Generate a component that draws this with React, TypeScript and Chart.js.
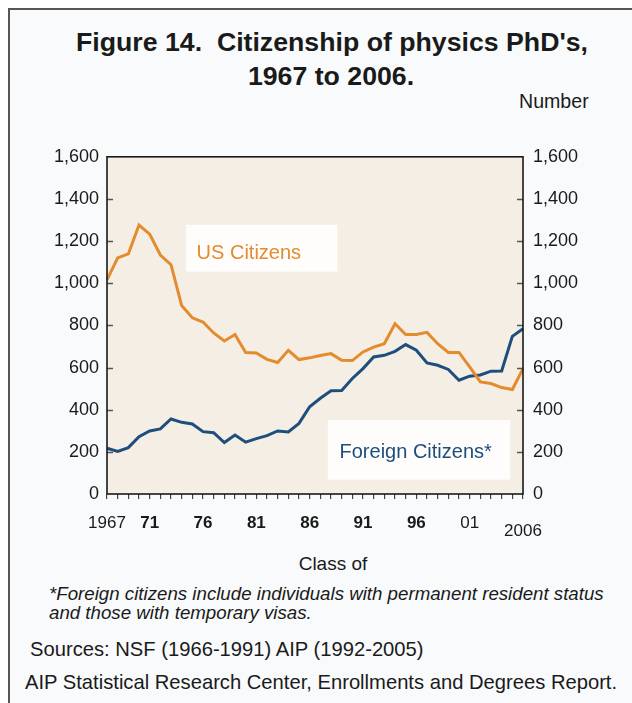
import React, { useEffect, useRef } from "react";
import { Chart, registerables } from "chart.js";

Chart.register(...registerables);

const years = [
  1967, 1968, 1969, 1970, 1971, 1972, 1973, 1974, 1975, 1976,
  1977, 1978, 1979, 1980, 1981, 1982, 1983, 1984, 1985, 1986,
  1987, 1988, 1989, 1990, 1991, 1992, 1993, 1994, 1995, 1996,
  1997, 1998, 1999, 2000, 2001, 2002, 2003, 2004, 2005, 2006,
];

const usCitizens = [
  1016, 1120, 1139, 1276, 1233, 1134, 1088, 894, 836, 816,
  764, 726, 757, 671, 669, 639, 624, 682, 638, 646,
  657, 666, 635, 633, 674, 697, 713, 808, 757, 757,
  767, 713, 672, 672, 603, 532, 524, 505, 496, 595,
];

const foreignCitizens = [
  217, 202, 220, 272, 299, 309, 356, 340, 332, 296,
  291, 244, 280, 246, 263, 277, 299, 294, 335, 414,
  454, 490, 491, 548, 595, 650, 658, 677, 709, 682,
  622, 611, 591, 540, 559, 565, 583, 584, 748, 784,
];

const xTickLabels: Record<number, string> = {
  1967: "1967",
  1971: "71",
  1976: "76",
  1981: "81",
  1986: "86",
  1991: "91",
  1996: "96",
  2001: "01",
  2006: "2006",
};
const boldYears = [1971, 1976, 1981, 1986, 1991, 1996];
const loweredYears = [2006];

const yTicks = [0, 200, 400, 600, 800, 1000, 1200, 1400, 1600];

// annotation boxes in data coordinates (category index, value)
const usLabel = { text: "US Citizens", x0: 7.4, x1: 21.6, y0: 1055, y1: 1277, tx: 8.4, ty: 1113 };
const foreignLabel = { text: "Foreign Citizens*", x0: 20.7, x1: 37.8, y0: 68, y1: 351, tx: 21.8, ty: 170 };

const FONT = '"Liberation Sans", Arial, Helvetica, sans-serif';
const ORANGE = "#E38B2D";
const BLUE = "#1E4E7D";

const framePlugin = {
  id: "framePlugin",
  beforeDraw(chart: any) {
    const { ctx, chartArea: a } = chart;
    ctx.save();
    ctx.fillStyle = "#F5EEE4";
    ctx.fillRect(a.left, a.top, a.right - a.left, a.bottom - a.top);
    ctx.restore();
  },
  beforeDatasetsDraw(chart: any) {
    const { ctx } = chart;
    const xs = chart.scales.x;
    const ys = chart.scales.y;
    ctx.save();
    [
      { l: usLabel, color: ORANGE },
      { l: foreignLabel, color: BLUE },
    ].forEach(({ l, color }) => {
      const x0 = xs.getPixelForValue(l.x0);
      const x1 = xs.getPixelForValue(l.x1);
      const y0 = ys.getPixelForValue(l.y1);
      const y1 = ys.getPixelForValue(l.y0);
      ctx.fillStyle = "#FEFDFB";
      ctx.fillRect(x0, y0, x1 - x0, y1 - y0);
      ctx.fillStyle = color;
      ctx.font = `20px ${FONT}`;
      ctx.textBaseline = "alphabetic";
      ctx.textAlign = "left";
      ctx.fillText(l.text, xs.getPixelForValue(l.tx), ys.getPixelForValue(l.ty));
    });
    ctx.restore();
  },
  afterDatasetsDraw(chart: any) {
    const { ctx, chartArea: a } = chart;
    const ys = chart.scales.y;
    ctx.save();
    ctx.strokeStyle = "#555555";
    ctx.lineWidth = 1.5;
    ys.ticks.forEach((t: any, i: number) => {
      if (t.value === 0 || t.value === 1600) return;
      const y = Math.round(ys.getPixelForTick(i)) + 0.5;
      ctx.beginPath();
      ctx.moveTo(a.left, y);
      ctx.lineTo(a.left + 6, y);
      ctx.moveTo(a.right, y);
      ctx.lineTo(a.right - 6, y);
      ctx.stroke();
    });
    ctx.strokeStyle = "#1a1a1a";
    ctx.lineWidth = 1.6;
    ctx.strokeRect(a.left, a.top, a.right - a.left, a.bottom - a.top);
    ctx.restore();
  },
};

function ChartCanvas() {
  const ref = useRef<HTMLCanvasElement | null>(null);
  useEffect(() => {
    if (!ref.current) return;
    Chart.defaults.font.family = FONT;
    Chart.defaults.color = "#1a1a1a";
    const yAxis = (position: "left" | "right", width: number, pad: number) => ({
      position,
      min: 0,
      max: 1600,
      afterFit(scale: any) {
        scale.width = width;
      },
      afterBuildTicks(scale: any) {
        scale.ticks = yTicks.map((v) => ({ value: v }));
      },
      grid: { drawOnChartArea: false, drawTicks: false },
      border: { display: false },
      ticks: {
        padding: pad,
        font: { size: 18 },
        color: "#1a1a1a",
        callback: (v: any) => Number(v).toLocaleString("en-US"),
      },
    });
    const chart = new Chart(ref.current, {
      type: "line",
      data: {
        labels: years.map(String),
        datasets: [
          {
            label: "US Citizens",
            data: usCitizens,
            borderColor: ORANGE,
            borderWidth: 3,
            pointRadius: 0,
            tension: 0,
            yAxisID: "y",
          },
          {
            label: "Foreign Citizens*",
            data: foreignCitizens,
            borderColor: BLUE,
            borderWidth: 3,
            pointRadius: 0,
            tension: 0,
            yAxisID: "y",
          },
        ],
      },
      options: {
        responsive: false,
        animation: false,
        devicePixelRatio: 1,
        layout: { padding: { top: 13, left: 0, right: 0, bottom: 0 } },
        plugins: { legend: { display: false }, tooltip: { enabled: false }, title: { display: false } },
        scales: {
          x: {
            type: "category",
            offset: false,
            afterFit(scale: any) {
              scale.height = 46;
            },
            grid: {
              drawOnChartArea: false,
              drawTicks: true,
              tickLength: 5,
              color: "#444444",
              lineWidth: 1.2,
            },
            border: { display: false },
            ticks: {
              autoSkip: false,
              maxRotation: 0,
              minRotation: 0,
              padding: 14,
              color: "#1a1a1a",
              font: (ctx: any) => {
                const yr = years[ctx.index];
                return {
                  size: 17,
                  weight: boldYears.includes(yr) ? "bold" : "normal",
                  lineHeight: loweredYears.includes(yr) ? 2.15 : 1.2,
                };
              },
              callback: (_v: any, i: number) => xTickLabels[years[i]] ?? "",
            },
          },
          y: yAxis("left", 107, 8) as any,
          y2: yAxis("right", 109, 10) as any,
        },
      },
      plugins: [framePlugin],
    });
    return () => chart.destroy();
  }, []);
  return (
    <canvas
      ref={ref}
      width={632}
      height={404}
      style={{ position: "absolute", left: 0, top: 136, width: 632, height: 404 }}
    />
  );
}

const textBase: React.CSSProperties = {
  position: "absolute",
  fontFamily: FONT,
  color: "#1a1a1a",
  whiteSpace: "nowrap",
  margin: 0,
};

export default function App() {
  return (
    <div
      style={{
        position: "fixed",
        left: 0,
        top: 0,
        width: 632,
        height: 703,
        background: "#ffffff",
        overflow: "hidden",
      }}
    >
      <div
        style={{
          position: "absolute",
          left: 8,
          top: 8,
          width: 640,
          height: 720,
          borderLeft: "2px solid #555",
          borderTop: "2px solid #555",
          background: "#F9FAFC",
        }}
      />
      <div style={{ ...textBase, left: 0, width: 664, top: 27, textAlign: "center", fontSize: 26.7, fontWeight: "bold", lineHeight: "30px" }}>
        Figure 14.&nbsp; Citizenship of physics PhD's,
      </div>
      <div style={{ ...textBase, left: 0, width: 662, top: 61, textAlign: "center", fontSize: 26.7, fontWeight: "bold", lineHeight: "30px" }}>
        1967 to 2006.
      </div>
      <div style={{ ...textBase, left: 519, top: 90, fontSize: 19.6, lineHeight: "22px" }}>Number</div>
      <ChartCanvas />
      <div style={{ ...textBase, left: 0, width: 666, top: 553, textAlign: "center", fontSize: 19, lineHeight: "22px" }}>
        Class of
      </div>
      <div style={{ ...textBase, left: 49, top: 584, fontSize: 18.7, fontStyle: "italic", lineHeight: "19px" }}>
        *Foreign citizens include individuals with permanent resident status
        <br />
        and those with temporary visas.
      </div>
      <div style={{ ...textBase, left: 30, top: 638, fontSize: 20.2, lineHeight: "23px" }}>
        Sources: NSF (1966-1991) AIP (1992-2005)
      </div>
      <div style={{ ...textBase, left: 25, top: 671, fontSize: 20.2, lineHeight: "23px" }}>
        AIP Statistical Research Center, Enrollments and Degrees Report.
      </div>
    </div>
  );
}
